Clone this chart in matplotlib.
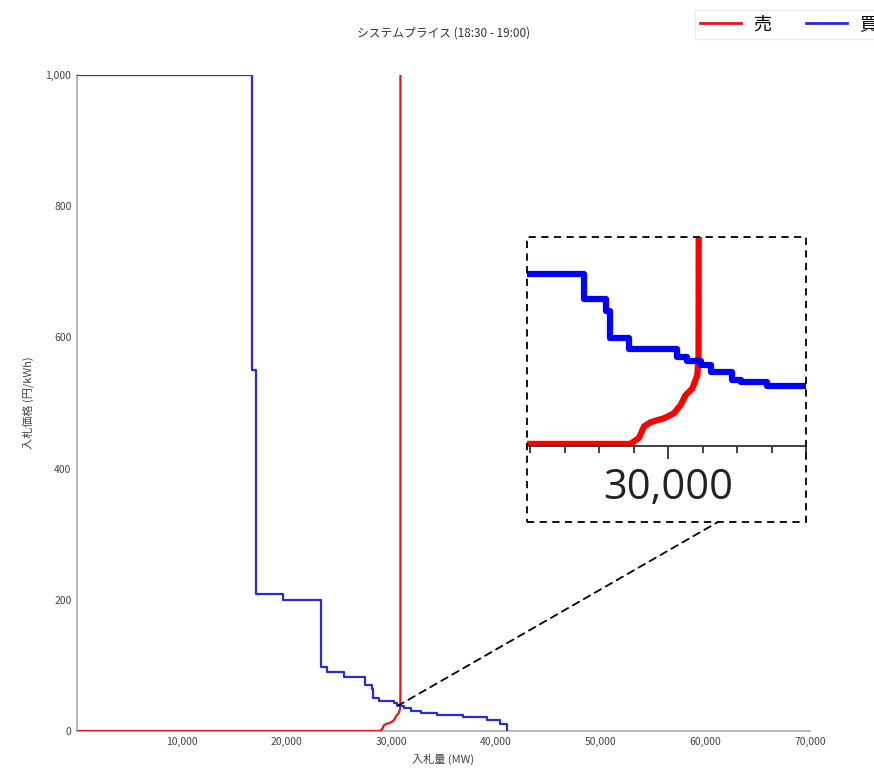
import matplotlib.pyplot as plt
from matplotlib.patches import Rectangle, ConnectionPatch
from matplotlib.ticker import FuncFormatter, FixedLocator

plt.rcParams['font.family'] = ['Noto Sans CJK JP', 'DejaVu Sans']

# buy curve (step starts, MW -> price)
buy_mw = [0, 16700, 17100, 19650, 23280, 23880, 25500, 27550, 28180, 28300,
          28860, 30260, 30555, 30940, 31230, 31860, 32100, 32880, 34400,
          36900, 39150, 40400, 41100]
buy_price = [1000, 550, 209, 200, 98, 90, 82, 70, 64, 51,
             46, 42, 40, 38, 35, 31, 30, 28, 24,
             21, 17, 11, 0]

# sell curve
sell_mw = [0, 28900, 29150, 29300, 29490, 29875, 30165, 30360, 30505, 30700,
           30845, 30880, 30885, 30885]
sell_price = [0, 0, 2.9, 8.5, 10.5, 12.4, 14.8, 18.8, 23.6, 26.8,
              33.2, 42.7, 100, 1000]

title = "システムプライス (18:30 - 19:00)"
W, H = 874, 769

fig = plt.figure(figsize=(W / 100, H / 100), dpi=100)
ax = fig.add_axes([77 / W, 1 - 731 / H, 733 / W, 656 / H])

ax.plot(sell_mw, sell_price, color="#e8141c", lw=1.6, label="売", zorder=3)
ax.plot(buy_mw, buy_price, color="#2a2ad8", lw=1.6, drawstyle="steps-post", label="買", zorder=3)

ax.set_xlim(0, 70000)
ax.set_ylim(0, 1000)
ax.set_xticks(range(10000, 70001, 10000))
ax.set_yticks(range(0, 1001, 200))
fmt = FuncFormatter(lambda v, p: f"{int(v):,}")
ax.xaxis.set_major_formatter(fmt)
ax.yaxis.set_major_formatter(fmt)
ax.tick_params(length=0, labelsize=7.5, labelcolor="#444444", pad=4)
for s in ["top", "right"]:
    ax.spines[s].set_visible(False)
for s in ["left", "bottom"]:
    ax.spines[s].set_color("#aaaaaa")
    ax.spines[s].set_linewidth(1.2)

ax.set_title(title, fontsize=8.5, color="#333333", pad=28)
ax.set_xlabel("入札量 (MW)", fontsize=8, color="#444444", labelpad=5)
ax.set_ylabel("入札価格 (円/kWh)", fontsize=8, color="#444444", labelpad=8)

leg = fig.legend(loc="upper left", bbox_to_anchor=(686 / W, 1 - 1 / H), ncol=2,
                 fontsize=13, handlelength=2.25, handletextpad=0.7, columnspacing=1.9,
                 frameon=True, fancybox=False, edgecolor="#e8e8e8", borderpad=0.3)
for line in leg.get_lines():
    line.set_linewidth(2)

# zoomed inset
axin = fig.add_axes([527 / W, 1 - 446 / H, 279 / W, 209 / H])
axin.patch.set_alpha(0)
axin.plot(sell_mw, sell_price, color="#ff0000", lw=4.5, solid_capstyle="butt")
axin.plot(buy_mw, buy_price, color="#0000ff", lw=4.5, drawstyle="steps-post")
axin.set_xlim(25900, 34000)
axin.set_ylim(-1, 100)
axin.set_yticks([])
axin.set_xticks([30000])
axin.xaxis.set_minor_locator(FixedLocator(range(26000, 34001, 1000)))
axin.xaxis.set_major_formatter(fmt)
axin.tick_params(axis="x", which="major", length=9, width=1.3, color="#333333",
                 labelsize=30, pad=6, labelcolor="#222222")
axin.tick_params(axis="x", which="minor", length=5, width=1.3, color="#333333")
for lbl in axin.get_xticklabels():
    lbl.set_family(["Open Sans", "DejaVu Sans"])
for s in ["top", "right", "left"]:
    axin.spines[s].set_visible(False)
axin.spines["bottom"].set_color("#333333")
axin.spines["bottom"].set_linewidth(1.3)

box = Rectangle((527 / W, 1 - 522 / H), 279 / W, 285 / H, transform=fig.transFigure,
                fill=False, ls=(0, (4, 3)), lw=1.3, ec="black")
fig.patches.append(box)

con = ConnectionPatch(xyA=(30600, 38), coordsA=ax.transData,
                      xyB=(718 / W, 1 - 522 / H), coordsB=fig.transFigure,
                      ls=(0, (4, 3)), lw=1.3, color="black")
fig.add_artist(con)

fig.savefig("out.png", dpi=100)
